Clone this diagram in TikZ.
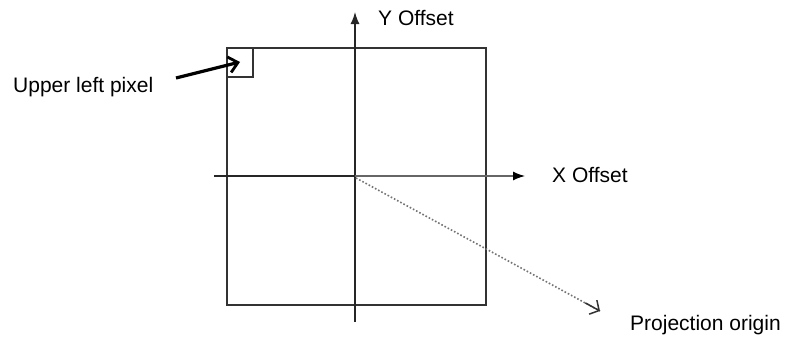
\documentclass[tikz,border=0pt]{standalone}
\usepackage{fontspec}
\setmainfont{Liberation Sans}
\usetikzlibrary{arrows.meta,calc}
\begin{document}
\begin{tikzpicture}[x=1pt,y=-1pt,
  lbl/.style={anchor=base west,inner sep=0pt,font=\fontsize{21}{25}\selectfont},
  frame/.style={draw=black!80,line width=1.3pt},
  axis/.style={draw=black!85,line width=1.3pt},
  axtip/.style={-{Latex[length=12pt,width=9pt]}},
  ptr/.style={line width=3.2pt,-{Straight Barb[length=9pt,width=16pt,line width=2.8pt]}},
  proj/.style={draw=black!55,line width=1.6pt,dotted},
]
\useasboundingbox (0,0) rectangle (789,340);
% outer square
\draw[frame] (227,48) rectangle (486,305);
% upper left pixel square
\draw[frame] (227,48) rectangle (253,77);
% coordinates
\coordinate (ybot) at (355,322);
\coordinate (ytop) at (355,12);
\coordinate (xl) at (214,176);
\coordinate (o) at (355,176);
\coordinate (xr) at (525,176);
\coordinate (pend) at (600,311);
\coordinate (ptail) at (176,78);
\coordinate (phead) at (240,62);
% axes
\draw[axis,axtip] (ybot) -- (ytop);
\draw[axis] (xl) -- (o);
\draw[draw=black!60,line width=1.3pt,-{Latex[length=12pt,width=9pt,color=black]}] (o) -- (xr);
% projection origin
\draw[proj] ([shift={(1,2)}]o) -- (pend);
\draw[black!80,line width=1.5pt,-{Straight Barb[length=7pt,width=16pt]}] ($(pend)!0.06!(o)$) -- (pend);
% upper left pixel pointer
\draw[ptr] (ptail) -- (phead);
% labels
\node[lbl] (ul) at (13,92) {Upper left pixel};
\node[lbl] (yl) at (378,25) {Y Offset};
\node[lbl] (xlab) at (552,182) {X Offset};
\node[lbl] (pl) at (630,330) {Projection origin};
\end{tikzpicture}
\end{document}
